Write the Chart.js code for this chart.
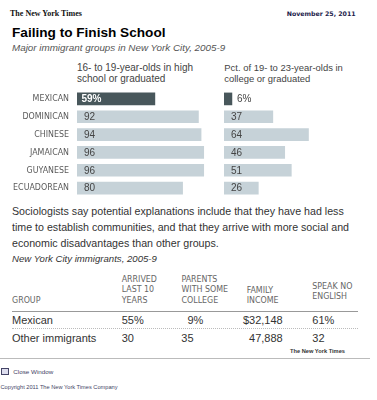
<!DOCTYPE html>
<html><head><meta charset="utf-8">
<script src="https://cdn.jsdelivr.net/npm/chart.js@4"></script>
<style>
html,body{margin:0;padding:0;}
body{width:377px;height:400px;background:#fff;position:relative;overflow:hidden;font-family:"Liberation Sans",Arial,sans-serif;}
.a{position:absolute;white-space:nowrap;}
.hd{font-family:"Liberation Sans Narrow","Arial Narrow","DejaVu Sans Condensed",sans-serif;font-size:8.8px;line-height:10.3px;color:#666;}
.row{font-size:11px;line-height:13px;color:#333;}
canvas{position:absolute;}
</style></head><body>

<div class="a fit" data-w="72" style="left:10px;top:10.3px;font-family:'Liberation Serif',serif;font-weight:bold;font-size:8px;line-height:8px;color:#111;">The New York Times</div>
<div class="a fit" data-w="69" style="left:286.7px;top:11.4px;font-family:'DejaVu Sans',sans-serif;font-weight:bold;font-size:6.25px;line-height:6.25px;color:#1c1c4c;">November 25, 2011</div>
<div class="a fit" data-w="153.4" style="left:12px;top:25.5px;font-weight:bold;font-size:13.5px;line-height:13.5px;color:#000;">Failing to Finish School</div>
<div class="a fit" data-w="213.3" style="left:12px;top:41.5px;font-style:italic;font-size:10px;line-height:12px;color:#555;">Major immigrant groups in New York City, 2005-9</div>

<div class="a fit" data-w="116" id="hL" style="left:77px;top:61.7px;font-size:10px;line-height:11px;color:#444;"></div>
<div class="a fit" data-w="118.4" id="hR" style="left:224.3px;top:61.7px;font-size:10px;line-height:11px;color:#444;"></div>

<canvas id="cL" width="209" height="107" style="left:0;top:90px;"></canvas>
<canvas id="cR" width="132" height="107" style="left:224px;top:90px;"></canvas>

<div class="a fit" data-w="336.6" id="para" style="left:12px;top:204.3px;font-size:10.5px;line-height:15.8px;color:#333;"></div>
<div class="a fit" data-w="145" style="left:12px;top:252.5px;font-style:italic;font-size:9.5px;line-height:12px;color:#333;">New York City immigrants, 2005-9</div>

<div id="table"></div>

<div class="a" style="left:12px;top:310.5px;width:346px;height:0;border-top:1px solid #999;"></div>
<div class="a" style="left:12px;top:328px;width:346px;height:0;border-top:1px dotted #bbb;"></div>

<div class="a fit" data-w="55" style="left:290px;top:348.4px;font-weight:bold;font-size:5.6px;line-height:6px;color:#333;">The New York Times</div>
<div class="a" style="left:0;top:358px;width:370px;height:0;border-top:1px solid #bbb;"></div>
<div class="a" style="left:1px;top:368px;width:6px;height:5px;border:1px solid #446;background:#dde;"></div>
<div class="a fit" data-w="40" style="left:13.3px;top:368.3px;font-size:6.2px;line-height:7px;color:#446;">Close Window</div>
<div class="a fit" data-w="117" style="left:0.5px;top:384.3px;font-size:5.8px;line-height:7px;color:#446;">Copyright 2011 The New York Times Company</div>

<script>
// ---- data ----
const categories = ['MEXICAN','DOMINICAN','CHINESE','JAMAICAN','GUYANESE','ECUADOREAN'];
const highSchoolPct = [59, 92, 94, 96, 96, 80];
const collegePct = [6, 37, 64, 46, 51, 26];
const leftHeader = ['16- to 19-year-olds in high', 'school or graduated'];
const rightHeader = ['Pct. of 19- to 23-year-olds in', 'college or graduated'];
const paragraphLines = [
  'Sociologists say potential explanations include that they have had less',
  'time to establish communities, and that they arrive with more social and',
  'economic disadvantages than other groups.'
];
const tableGroups = ['Mexican', 'Other immigrants'];
const arrivedLast10 = [55, 30];
const parentsCollege = [9, 35];
const familyIncome = [32148, 47888];
const speakNoEnglish = [61, 32];
const tableHeaders = [['GROUP'], ['ARRIVED','LAST 10','YEARS'], ['PARENTS','WITH SOME','COLLEGE'], ['FAMILY','INCOME'], ['SPEAK NO','ENGLISH']];

// ---- text ----
document.getElementById('hL').innerHTML = leftHeader.join('<br>');
document.getElementById('hR').innerHTML = rightHeader.join('<br>');
document.getElementById('para').innerHTML = paragraphLines.join('<br>');

// fit font sizes of text blocks to the widths seen in the reference
document.querySelectorAll('.fit').forEach(el => {
  const target = parseFloat(el.dataset.w);
  for (let k = 0; k < 2; k++) {
    const w = el.getBoundingClientRect().width;
    const fsz = parseFloat(getComputedStyle(el).fontSize);
    if (w > 0) el.style.fontSize = (fsz * target / w).toFixed(3) + 'px';
  }
});

const tbl = document.getElementById('table');
function addDiv(cls, left, top, html, extra) {
  const d = document.createElement('div');
  d.className = 'a ' + cls;
  d.style.left = left + 'px';
  d.style.top = top + 'px';
  if (extra) Object.assign(d.style, extra);
  d.innerHTML = html;
  tbl.appendChild(d);
  return d;
}
const hdLeft = [12, 121.7, 181.5, 246.7, 312.3];
const hdBase = [303.3, 303, 303, 303, 299.7];
tableHeaders.forEach((lines, i) => {
  const top = hdBase[i] - (lines.length - 1) * 10.3 - 8.2;
  addDiv('hd', hdLeft[i], top, lines.join('<br>'));
});
const rowTops = [313.7, 332.2];
const fs = '\u2007';
tableGroups.forEach((g, r) => {
  const first = r === 0;
  const pad = n => (n < 10 ? fs : '') + n;
  addDiv('row', 12, rowTops[r], g);
  addDiv('row', 121.7, rowTops[r], pad(arrivedLast10[r]) + (first ? '%' : ''));
  addDiv('row', 181.3, rowTops[r], pad(parentsCollege[r]) + (first ? '%' : ''));
  addDiv('row', 0, rowTops[r], (first ? '$' : '') + familyIncome[r].toLocaleString('en-US'),
    {left: 'auto', right: (377 - 282.7) + 'px'});
  addDiv('row', 312.3, rowTops[r], pad(speakNoEnglish[r]) + (first ? '%' : ''));
});

// ---- charts ----
const DARK = '#48575b';
const LIGHT = '#c6d2d8';
const NARROW = '"Liberation Sans Narrow","Arial Narrow","DejaVu Sans Condensed",sans-serif';

function valueLabels(insideFirst) {
  return {
    id: 'valueLabels',
    afterDatasetsDraw(chart) {
      const ctx = chart.ctx;
      const meta = chart.getDatasetMeta(0);
      const x0 = chart.scales.x.getPixelForValue(0);
      const vals = chart.data.datasets[0].data;
      ctx.save();
      ctx.textBaseline = 'middle';
      ctx.textAlign = 'left';
      meta.data.forEach((bar, i) => {
        let txt = String(vals[i]);
        let x = x0 + 7, color = '#444', weight = 'normal';
        if (i === 0) {
          txt += '%';
          if (insideFirst) { x = x0 + 4.5; color = '#fff'; weight = 'bold'; }
          else { x = bar.x + 5; }
        }
        ctx.font = weight + ' 10px "Liberation Sans", Arial, sans-serif';
        ctx.fillStyle = color;
        ctx.fillText(txt, x, bar.y + 0.5);
      });
      ctx.restore();
    }
  };
}

function makeChart(id, values, showLabels, insideFirst) {
  return new Chart(document.getElementById(id), {
    type: 'bar',
    data: {
      labels: categories,
      datasets: [{
        data: values,
        backgroundColor: categories.map((c, i) => i === 0 ? DARK : LIGHT),
        borderWidth: 0,
        barThickness: 12
      }]
    },
    options: {
      indexAxis: 'y',
      responsive: false,
      animation: false,
      events: [],
      layout: { padding: 0 },
      plugins: { legend: { display: false }, tooltip: { enabled: false } },
      scales: {
        x: { display: false, min: 0, max: 100 },
        y: showLabels ? {
          grid: { display: false, drawTicks: false },
          border: { display: false },
          ticks: { padding: 8, color: '#5a5a5a', font: { family: NARROW, size: 8.8 } },
          afterFit: s => { s.width = 77; s.paddingTop = 0; s.paddingBottom = 0; }
        } : { display: false }
      }
    },
    plugins: [valueLabels(insideFirst)]
  });
}
makeChart('cL', highSchoolPct, true, true);
makeChart('cR', collegePct, false, false);
</script>
</body></html>
